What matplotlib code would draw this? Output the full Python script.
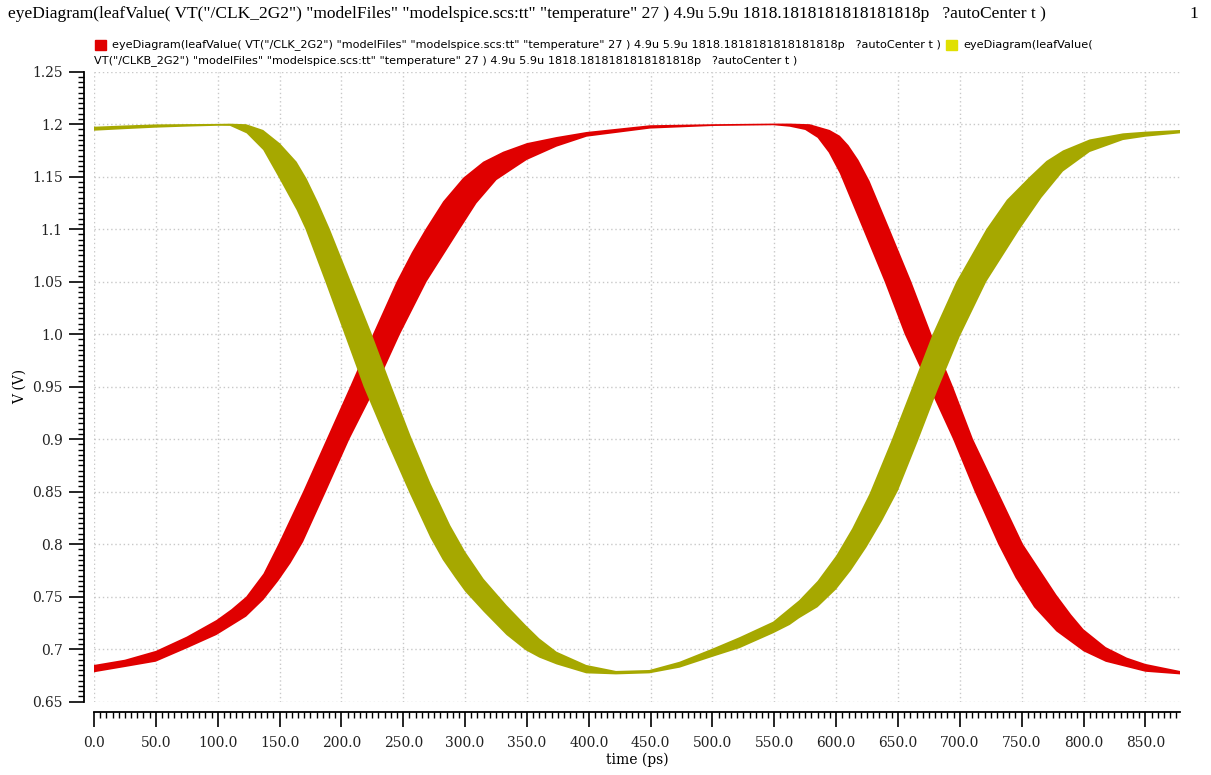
import matplotlib
matplotlib.use('Agg')
import matplotlib.pyplot as plt
from matplotlib.patches import Rectangle
from matplotlib.ticker import MultipleLocator, FormatStrFormatter

# eye band edges: time (ps) and voltage (V)
# CLK_2G2 - upper edge
clk_hi_t = [0, 25, 50, 75, 99, 111, 123, 137, 149, 169, 188, 207, 225.5, 244.6,
            257, 268, 282.3, 298.5, 314.7, 330.8, 350, 374, 398.3, 449.5, 500.7,
            549.2, 562.5, 578.7, 594.8, 603, 610, 618, 627, 643.3, 660.8, 677,
            694.5, 710.7, 730.9, 751.1, 778, 790, 800, 818, 835, 850, 878]
clk_hi_v = [0.685, 0.690, 0.6984, 0.712, 0.7278, 0.738, 0.750, 0.772, 0.800, 0.850,
            0.900, 0.950, 1.000, 1.050, 1.078, 1.100, 1.1265, 1.149, 1.1643,
            1.1738, 1.182, 1.1878, 1.1926, 1.199, 1.200, 1.2006, 1.2006, 1.200,
            1.1945, 1.189, 1.180, 1.166, 1.146, 1.100, 1.050, 1.000, 0.950, 0.900,
            0.850, 0.800, 0.752, 0.733, 0.719, 0.702, 0.692, 0.686, 0.6793]
# CLK_2G2 - lower edge
clk_lo_t = [0, 25, 50, 75, 99, 123, 137, 149, 159, 169, 187.5, 206.5, 228, 247.4,
            268.9, 295.8, 309.2, 325.4, 341.6, 350, 374, 398.3, 449.5, 500.7, 549.2,
            562.5, 575, 585, 594, 603, 621.7, 639.2, 655.4, 675, 694.5, 712, 731,
            745, 760, 778, 800, 818, 850, 878]
clk_lo_v = [0.678, 0.683, 0.6881, 0.7008, 0.7135, 0.731, 0.747, 0.765, 0.782,
            0.802, 0.850, 0.900, 0.950, 1.000, 1.050, 1.100, 1.1246, 1.1468,
            1.1595, 1.166, 1.1786, 1.1881, 1.1958, 1.1983, 1.199, 1.1976, 1.1945,
            1.187, 1.173, 1.153, 1.100, 1.050, 1.000, 0.950, 0.900, 0.850, 0.800,
            0.768, 0.740, 0.717, 0.698, 0.688, 0.6785, 0.676]

# CLKB_2G2 - upper edge
clkb_hi_t = [0, 25, 50, 75, 100, 110, 123, 136.8, 150.3, 163.8, 172, 181, 190.7,
             207, 224, 240, 256, 272, 288, 300, 315, 333.5, 349, 360, 374, 398,
             422, 449, 473.5, 500.5, 522, 549, 570, 585, 600, 613, 627, 644.5, 661,
             678, 697.2, 721.4, 738, 756.5, 770, 783.4, 805, 831.9, 850.2, 878]
clkb_hi_v = [1.1976, 1.1988, 1.1998, 1.2001, 1.2003, 1.2005, 1.200, 1.1945, 1.1818,
             1.1643, 1.148, 1.126, 1.100, 1.052, 1.002, 0.952, 0.903, 0.858, 0.818,
             0.793, 0.767, 0.742, 0.723, 0.7103, 0.6976, 0.685, 0.6793, 0.6802,
             0.6881, 0.7008, 0.7115, 0.7262, 0.7465, 0.765, 0.789, 0.815, 0.848,
             0.898, 0.948, 1.000, 1.050, 1.100, 1.128, 1.150, 1.165, 1.175, 1.1855,
             1.1913, 1.1929, 1.1945]
# CLKB_2G2 - lower edge
clkb_lo_t = [0, 25, 50, 75, 100, 110, 123.4, 136.8, 149, 163.8, 171, 187, 202.5,
             218, 237, 255.4, 272, 282, 292, 300, 315, 333.5, 349, 360, 374, 398,
             422, 449, 473.5, 500.5, 522, 549, 562.5, 570, 585, 600, 612, 624.5,
             637, 650, 666, 682, 700, 721.4, 748.4, 766, 783.4, 805, 831.9, 850.2,
             878]
clkb_lo_v = [1.1938, 1.1953, 1.1967, 1.1977, 1.1985, 1.1984, 1.1913, 1.1754, 1.150,
             1.1183, 1.100, 1.050, 1.000, 0.950, 0.897, 0.848, 0.806, 0.785, 0.768,
             0.755, 0.7357, 0.7135, 0.699, 0.692, 0.6855, 0.677, 0.676, 0.677,
             0.6824, 0.6929, 0.701, 0.7151, 0.7231, 0.7294, 0.740, 0.757, 0.775,
             0.797, 0.822, 0.851, 0.898, 0.947, 0.998, 1.050, 1.100, 1.130, 1.155,
             1.1735, 1.1849, 1.1881, 1.1913]

y_ticks = [0.65, 0.7, 0.75, 0.8, 0.85, 0.9, 0.95, 1.0, 1.05, 1.1, 1.15, 1.2, 1.25]
y_labels = ['0.65', '0.7', '0.75', '0.8', '0.85', '0.9', '0.95', '1.0', '1.05',
            '1.1', '1.15', '1.2', '1.25']

title = ('eyeDiagram(leafValue( VT("/CLK_2G2") "modelFiles" "modelspice.scs:tt" '
         '"temperature" 27 ) 4.9u 5.9u 1818.1818181818181818p   ?autoCenter t )')
leg2a = 'eyeDiagram(leafValue('
leg2b = ('VT("/CLKB_2G2") "modelFiles" "modelspice.scs:tt" "temperature" 27 ) '
         '4.9u 5.9u 1818.1818181818181818p   ?autoCenter t )')

red = '#e00000'
olive = '#a6a800'
yellow = '#e0e000'
serif = 'DejaVu Serif'

W, H = 1211, 775
fig = plt.figure(figsize=(W / 100, H / 100), dpi=100)
ax = fig.add_axes([94 / W, 1 - 701.7 / H, (1180 - 94) / W, (701.7 - 71.7) / H])

ax.fill(clk_hi_t + clk_lo_t[::-1], clk_hi_v + clk_lo_v[::-1], color=red, lw=0)
ax.fill(clkb_hi_t + clkb_lo_t[::-1], clkb_hi_v + clkb_lo_v[::-1], color=olive, lw=0)

ax.set_xlim(0, 878)
ax.set_ylim(0.65, 1.25)
ax.xaxis.set_major_locator(MultipleLocator(50))
ax.xaxis.set_minor_locator(MultipleLocator(5))
ax.xaxis.set_major_formatter(FormatStrFormatter('%.1f'))
ax.set_yticks(y_ticks)
ax.set_yticklabels(y_labels)
ax.yaxis.set_minor_locator(MultipleLocator(0.005))

ax.grid(True, which='major', color='#c8c8c8', linestyle=(0, (1, 2)), linewidth=1)
ax.set_axisbelow(True)
for s in ['top', 'right']:
    ax.spines[s].set_visible(False)
ax.spines['left'].set_position(('outward', 7.5))
ax.spines['bottom'].set_position(('outward', 7.5))
ax.spines['left'].set_linewidth(1.3)
ax.spines['bottom'].set_linewidth(1.3)

ax.tick_params(which='major', length=11, width=1.2, labelsize=10, pad=4)
ax.tick_params(which='minor', length=4.5, width=1.0)
ax.tick_params(axis='x', which='major', pad=6)
for lab in ax.get_xticklabels() + ax.get_yticklabels():
    lab.set_fontfamily(serif)
    lab.set_color('#222222')

ax.set_xlabel('time (ps)', fontfamily=serif, fontsize=10, labelpad=2)
ax.set_ylabel('V (V)', fontfamily=serif, fontsize=10, labelpad=4)

fig.text(8 / W, 1 - 14 / H, title, fontfamily='Liberation Serif', fontsize=12.5,
         va='center', ha='left')
fig.text(1198 / W, 1 - 14 / H, '1', fontfamily='Liberation Serif', fontsize=12.5,
         va='center', ha='right')

fig.add_artist(Rectangle((95 / W, 1 - 50 / H), 11 / W, 10 / H, color=red,
                         transform=fig.transFigure))
fig.text(112 / W, 1 - 45 / H, title, fontsize=8.1, va='center', ha='left')
fig.add_artist(Rectangle((946 / W, 1 - 50 / H), 11 / W, 10 / H, color=yellow,
                         transform=fig.transFigure))
fig.text(963 / W, 1 - 45 / H, leg2a, fontsize=8.1, va='center', ha='left')
fig.text(94 / W, 1 - 61 / H, leg2b, fontsize=8.1, va='center', ha='left')

fig.savefig('out.png', dpi=100)
